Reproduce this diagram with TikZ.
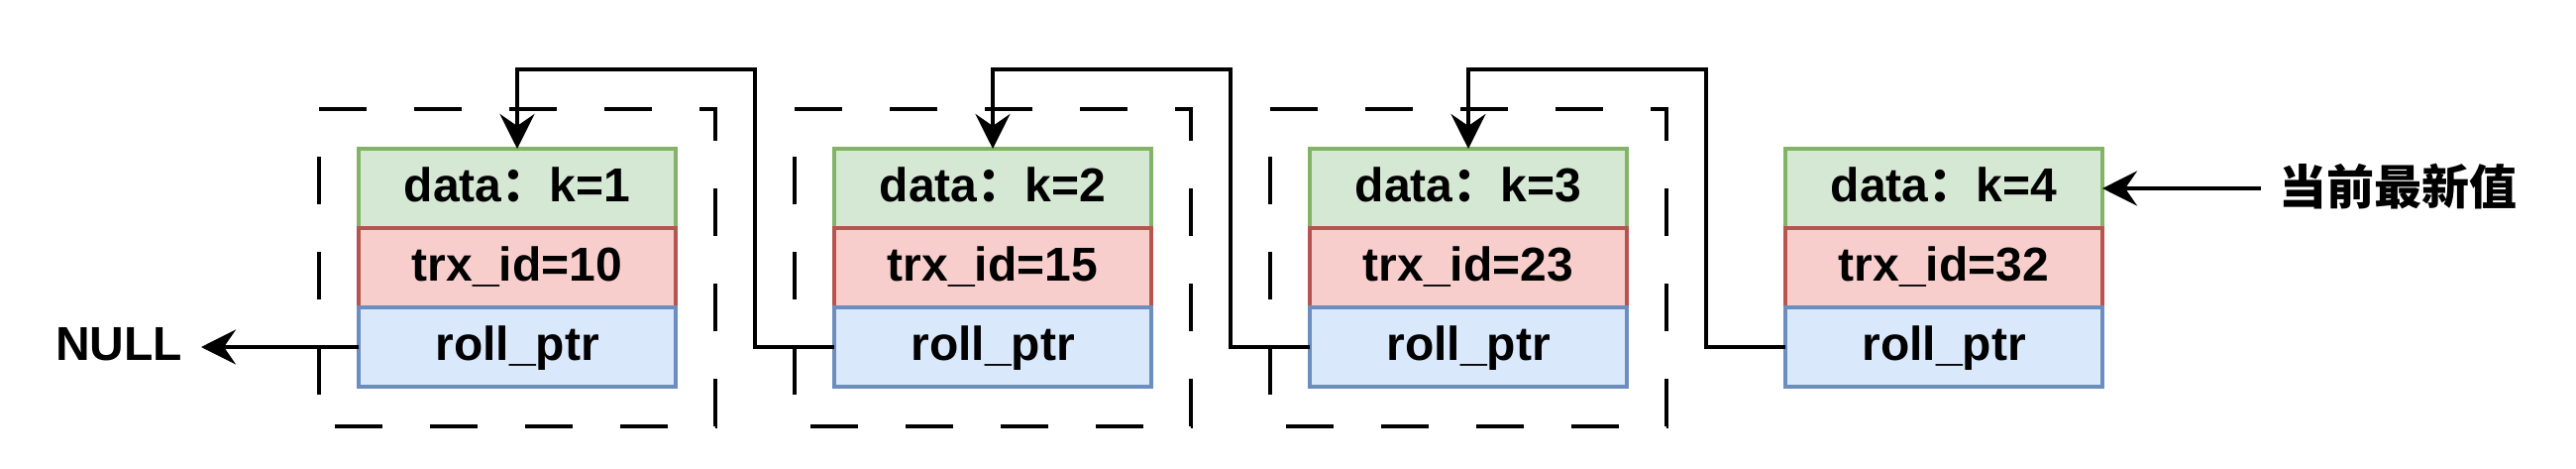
\documentclass[tikz,border=0pt]{standalone}
\usepackage{fontspec}
\setmainfont{Liberation Sans}
\newfontfamily\cjk{Noto Sans CJK SC}
\usetikzlibrary{arrows.meta}
\definecolor{gfill}{HTML}{D5E8D4}
\definecolor{gline}{HTML}{82B366}
\definecolor{rfill}{HTML}{F8CECC}
\definecolor{rline}{HTML}{B85450}
\definecolor{bfill}{HTML}{DAE8FC}
\definecolor{bline}{HTML}{6C8EBF}
\begin{document}
\begin{tikzpicture}[x=1pt,y=-1pt,
  cell/.style={draw, line width=3.6pt, minimum width=320pt, minimum height=80pt,
    inner sep=0pt, outer sep=0pt, text height=37pt, text depth=10pt,
    font=\fontsize{48}{58}\selectfont\bfseries},
  gcell/.style={cell, fill=gfill, draw=gline},
  rcell/.style={cell, fill=rfill, draw=rline},
  bcell/.style={cell, fill=bfill, draw=bline},
  lbl/.style={inner ysep=0pt, outer sep=0pt, text height=37pt, text depth=10pt,
    font=\fontsize{48}{58}\selectfont\bfseries},
  conn/.style={line width=4pt, -{Stealth[length=35pt,width=35pt,inset=12pt]}},
  frame/.style={line width=4pt, dash pattern=on 48pt off 48pt}]
\useasboundingbox (0,0) rectangle (2600,472);
% dashed frames
\draw[frame] (322,110) -- (722,110) -- (722,430) -- (322,430) -- cycle;
\draw[frame] (802,110) -- (1202,110) -- (1202,430) -- (802,430) -- cycle;
\draw[frame] (1282,110) -- (1682,110) -- (1682,430) -- (1282,430) -- cycle;
% records
\node[gcell] (b1a) at (522,190) {data{\cjk ：}k=1};
\node[rcell] (b1b) at (522,270) {trx\_id=10};
\node[bcell] (b1c) at (522,350) {roll\_ptr};
\node[gcell] (b2a) at (1002,190) {data{\cjk ：}k=2};
\node[rcell] (b2b) at (1002,270) {trx\_id=15};
\node[bcell] (b2c) at (1002,350) {roll\_ptr};
\node[gcell] (b3a) at (1482,190) {data{\cjk ：}k=3};
\node[rcell] (b3b) at (1482,270) {trx\_id=23};
\node[bcell] (b3c) at (1482,350) {roll\_ptr};
\node[gcell] (b4a) at (1962,190) {data{\cjk ：}k=4};
\node[rcell] (b4b) at (1962,270) {trx\_id=32};
\node[bcell] (b4c) at (1962,350) {roll\_ptr};
% labels
\node[lbl, anchor=east, inner xsep=19pt] (null) at (203,350) {NULL};
\node[anchor=west, inner xsep=18pt, inner ysep=0pt, outer sep=0pt,
  text height=40pt, text depth=8pt,
  font=\cjk\bfseries\fontsize{48}{58}\selectfont] (cur) at (2282,190) {当前最新值};
% connectors
\coordinate (k1) at (762,70);
\coordinate (k2) at (1242,70);
\coordinate (k3) at (1722,70);
\draw[conn] (b1c.west) -- (null.east);
\draw[conn] (b2c.west) -| (k1) -| (b1a.north);
\draw[conn] (b3c.west) -| (k2) -| (b2a.north);
\draw[conn] (b4c.west) -| (k3) -| (b3a.north);
\draw[conn] (cur.west) -- (b4a.east);
\end{tikzpicture}
\end{document}
